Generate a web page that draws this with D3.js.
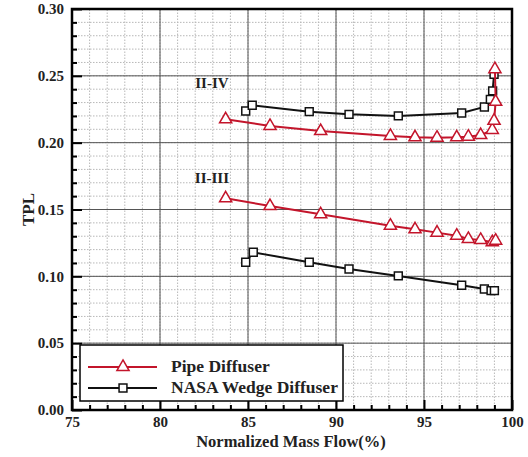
<!DOCTYPE html>
<html>
<head>
<meta charset="utf-8">
<script src="https://cdn.jsdelivr.net/npm/d3@7"></script>
<style>
  body { margin: 0; background: #fff; }
</style>
</head>
<body>
<script>
var width = 528, height = 457;
var margin = {top: 9, right: 16, bottom: 47, left: 72};
var serif = "Liberation Serif";

// data
var pipeUpperX = [83.73, 86.25, 89.13, 93.09, 94.49, 95.74, 96.86, 97.52, 98.22, 98.88, 98.98, 99.07, 99.03];
var pipeUpperY = [0.2175, 0.2125, 0.2087, 0.2050, 0.2040, 0.2037, 0.2040, 0.2045, 0.2057, 0.2095, 0.2164, 0.2306, 0.2550];
var nasaUpperX = [84.87, 85.24, 88.48, 90.74, 93.54, 97.14, 98.43, 98.77, 98.90, 98.98];
var nasaUpperY = [0.2237, 0.2280, 0.2232, 0.2212, 0.2200, 0.2222, 0.2267, 0.2324, 0.2387, 0.2511];
var pipeLowerX = [83.73, 86.25, 89.13, 93.09, 94.49, 95.74, 96.86, 97.52, 98.22, 98.88, 99.07];
var pipeLowerY = [0.1584, 0.1526, 0.1464, 0.1379, 0.1352, 0.1327, 0.1304, 0.1280, 0.1272, 0.1255, 0.1267];
var nasaLowerX = [84.87, 85.30, 88.48, 90.74, 93.54, 97.14, 98.43, 98.81, 99.00];
var nasaLowerY = [0.1105, 0.1180, 0.1105, 0.1055, 0.1003, 0.0933, 0.0905, 0.0893, 0.0893];

var xTicks = [75, 80, 85, 90, 95, 100];
var yTicks = [0.00, 0.05, 0.10, 0.15, 0.20, 0.25, 0.30];
var labels = [{text: "II-IV", x: 82.95, y: 0.2409}, {text: "II-III", x: 82.95, y: 0.1698}];
var seriesNames = ["Pipe Diffuser", "NASA Wedge Diffuser"];

var red = "#c3152b";

var svg = d3.select("body").append("svg")
    .attr("width", width)
    .attr("height", height);

var x = d3.scaleLinear().domain([75, 100]).range([margin.left, width - margin.right]);
var y = d3.scaleLinear().domain([0, 0.30]).range([height - margin.bottom, margin.top]);

// minor grid, dotted
var g = svg.append("g");
g.selectAll(".vminor")
    .data(d3.range(75, 100.01, 1))
    .enter().append("line")
    .attr("x1", function (d) { return x(d); })
    .attr("x2", function (d) { return x(d); })
    .attr("y1", y(0)).attr("y2", y(0.30))
    .attr("stroke", "#b8b8b8").attr("stroke-width", 1)
    .attr("stroke-dasharray", "1.5,1.5");
g.selectAll(".hminor")
    .data(d3.range(0, 0.3001, 0.01))
    .enter().append("line")
    .attr("y1", function (d) { return y(d); })
    .attr("y2", function (d) { return y(d); })
    .attr("x1", x(75)).attr("x2", x(100))
    .attr("stroke", "#b8b8b8").attr("stroke-width", 1)
    .attr("stroke-dasharray", "1.5,1.5");

// major grid
g.selectAll(".vmajor")
    .data(xTicks)
    .enter().append("line")
    .attr("x1", function (d) { return x(d); })
    .attr("x2", function (d) { return x(d); })
    .attr("y1", y(0)).attr("y2", y(0.30))
    .attr("stroke", "#555").attr("stroke-width", 1);
g.selectAll(".hmajor")
    .data(yTicks)
    .enter().append("line")
    .attr("y1", function (d) { return y(d); })
    .attr("y2", function (d) { return y(d); })
    .attr("x1", x(75)).attr("x2", x(100))
    .attr("stroke", "#555").attr("stroke-width", 1);

// axes with inward ticks
var xAxis = svg.append("g")
    .attr("transform", "translate(0," + y(0) + ")")
    .call(d3.axisBottom(x).tickValues(xTicks).tickSizeInner(-10).tickSizeOuter(0).tickPadding(6).tickFormat(d3.format("d")));
var xMinor = svg.append("g")
    .attr("transform", "translate(0," + y(0) + ")")
    .call(d3.axisBottom(x).tickValues(d3.range(76, 100, 1).filter(function (d) { return d % 5; })).tickSizeInner(-5).tickSizeOuter(0).tickFormat(""));
var yAxis = svg.append("g")
    .attr("transform", "translate(" + x(75) + ",0)")
    .call(d3.axisLeft(y).tickValues(yTicks).tickSizeInner(-10).tickSizeOuter(0).tickPadding(8).tickFormat(d3.format(".2f")));
var yMinor = svg.append("g")
    .attr("transform", "translate(" + x(75) + ",0)")
    .call(d3.axisLeft(y).tickValues(d3.range(1, 30).filter(function (d) { return d % 5; }).map(function (d) { return d / 100; })).tickSizeInner(-5).tickSizeOuter(0).tickFormat(""));

[xAxis, xMinor, yAxis, yMinor].forEach(function (a) {
    a.attr("font-family", serif).attr("font-size", 15).attr("font-weight", "bold");
    a.selectAll("line").attr("stroke", "#000").attr("stroke-width", 2);
    a.select(".domain").remove();
    a.selectAll("text").attr("fill", "#222");
});

// frame
svg.append("rect")
    .attr("x", x(75)).attr("y", y(0.30))
    .attr("width", x(100) - x(75)).attr("height", y(0) - y(0.30))
    .attr("fill", "none").attr("stroke", "#000").attr("stroke-width", 2.5);

// series
var line = d3.line()
    .x(function (d) { return x(d[0]); })
    .y(function (d) { return y(d[1]); });

function zip(xs, ys) {
    return xs.map(function (v, i) { return [v, ys[i]]; });
}

var triangle = d3.symbol().type(d3.symbolTriangle).size(64);
var square = d3.symbol().type(d3.symbolSquare).size(62);

function drawSeries(pts, color, sym) {
    svg.append("path")
        .datum(pts)
        .attr("d", line)
        .attr("fill", "none")
        .attr("stroke", color)
        .attr("stroke-width", 2);
    svg.append("g").selectAll("path")
        .data(pts)
        .enter().append("path")
        .attr("d", sym)
        .attr("transform", function (d) { return "translate(" + x(d[0]) + "," + y(d[1]) + ")"; })
        .attr("fill", "#fff")
        .attr("stroke", color)
        .attr("stroke-width", 1.5);
}

drawSeries(zip(nasaUpperX, nasaUpperY), "#111", square);
drawSeries(zip(pipeUpperX, pipeUpperY), red, triangle);
drawSeries(zip(pipeLowerX, pipeLowerY), red, triangle);
drawSeries(zip(nasaLowerX, nasaLowerY), "#111", square);

// annotations
svg.selectAll(".lab")
    .data(labels)
    .enter().append("text")
    .attr("x", function (d) { return x(d.x); })
    .attr("y", function (d) { return y(d.y); })
    .attr("text-anchor", "middle")
    .attr("font-family", serif).attr("font-weight", "bold")
    .attr("font-size", 15)
    .attr("fill", "#222")
    .text(function (d) { return d.text; });

// legend
var leg = svg.append("g");
leg.append("rect")
    .attr("x", 80).attr("y", 345)
    .attr("width", 263).attr("height", 56)
    .attr("fill", "#fff").attr("stroke", "#000").attr("stroke-width", 1.5);
var legColors = [red, "#111"];
var legSyms = [triangle, square];
seriesNames.forEach(function (name, i) {
    var ly = 367 + i * 21;
    leg.append("line")
        .attr("x1", 88).attr("x2", 157)
        .attr("y1", ly).attr("y2", ly)
        .attr("stroke", legColors[i]).attr("stroke-width", 2);
    leg.append("path")
        .attr("d", legSyms[i])
        .attr("transform", "translate(123," + ly + ")")
        .attr("fill", "#fff").attr("stroke", legColors[i]).attr("stroke-width", 1.5);
    leg.append("text")
        .attr("x", 171).attr("y", ly + 5)
        .attr("font-family", serif).attr("font-weight", "bold")
        .attr("font-size", 17.5)
        .attr("fill", "#222")
        .text(name);
});

// axis titles
svg.append("text")
    .attr("x", (x(75) + x(100)) / 2 - 1).attr("y", 447)
    .attr("text-anchor", "middle")
    .attr("font-family", serif).attr("font-weight", "bold")
    .attr("font-size", 16.5)
    .attr("fill", "#222")
    .text("Normalized Mass Flow(%)");
svg.append("text")
    .attr("transform", "translate(34," + y(0.15) + ") rotate(-90)")
    .attr("text-anchor", "middle")
    .attr("font-family", serif).attr("font-weight", "bold")
    .attr("font-size", 17)
    .attr("fill", "#222")
    .text("TPL");
</script>
</body>
</html>
